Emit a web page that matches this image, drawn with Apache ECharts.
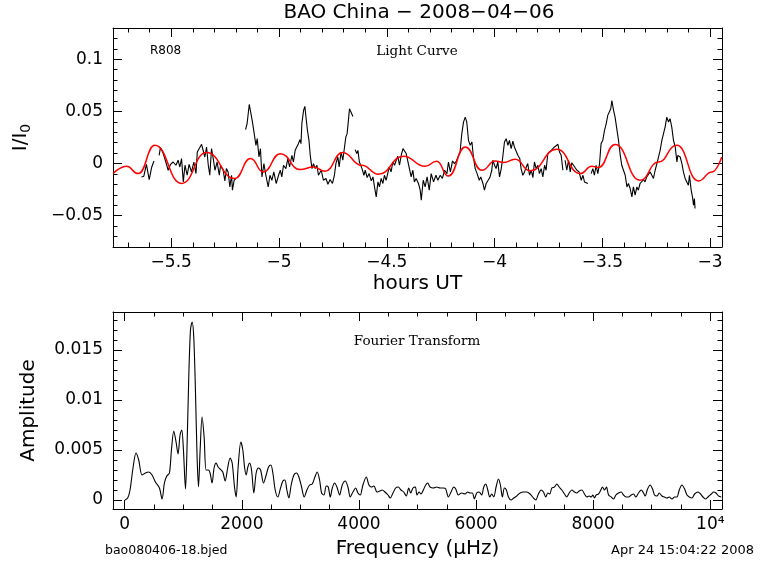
<!DOCTYPE html>
<html>
<head>
<meta charset="utf-8">
<script src="https://cdn.jsdelivr.net/npm/echarts@6/dist/echarts.min.js"></script>
<style>
html,body{margin:0;padding:0;background:#fff;}
#chart{width:768px;height:574px;}
</style>
</head>
<body>
<div id="chart"></div>
<script>
// ---- Light curve (black): hours UT, relative intensity; null = gap ----
const lcHours = [
-5.638,-5.627,-5.615,-5.602,-5.591,-5.580,-5.568,
-5.556,-5.550,-5.537,-5.525,-5.514,-5.503,-5.491,-5.478,-5.468,-5.460,-5.452,-5.444,-5.436,-5.426,-5.417,-5.406,-5.395,-5.385,-5.379,-5.370,-5.359,-5.352,-5.344,-5.336,-5.328,-5.321,-5.313,-5.305,-5.297,-5.287,-5.277,-5.271,-5.259,-5.251,-5.244,-5.236,-5.228,-5.220,-5.216,-5.208,-5.200,-5.180,
-5.155,-5.148,-5.138,-5.130,-5.123,-5.116,-5.107,-5.101,-5.093,-5.086,-5.079,-5.070,-5.061,-5.050,-5.042,-5.033,-5.024,-5.013,-5.002,-4.994,-4.987,-4.979,-4.968,-4.959,-4.951,-4.940,-4.933,-4.925,-4.917,-4.910,-4.903,-4.898,-4.894,-4.886,-4.880,-4.874,-4.868,-4.861,-4.855,-4.847,-4.840,-4.832,-4.824,-4.817,-4.804,-4.794,-4.782,-4.773,-4.763,-4.752,-4.743,-4.736,-4.727,-4.721,-4.712,-4.704,-4.696,-4.690,-4.684,-4.678,-4.673,-4.665,-4.657,-4.652,
-4.647,-4.639,-4.634,-4.627,-4.615,-4.606,-4.600,-4.591,-4.582,-4.572,-4.564,-4.557,-4.549,-4.541,-4.534,-4.526,-4.518,-4.511,-4.503,-4.495,-4.488,-4.480,-4.472,-4.464,-4.456,-4.449,-4.441,-4.433,-4.425,-4.418,-4.410,-4.402,-4.395,-4.387,-4.379,-4.372,-4.364,-4.353,-4.345,-4.340,-4.331,-4.322,-4.313,-4.303,-4.294,-4.283,-4.272,-4.263,-4.252,-4.242,-4.232,-4.221,-4.214,-4.205,-4.195,-4.186,-4.177,-4.167,-4.160,-4.152,-4.144,-4.136,-4.129,-4.121,-4.113,-4.105,-4.098,-4.090,-4.081,-4.071,-4.064,-4.054,-4.047,-4.039,-4.031,-4.022,-4.013,-4.008,-4.000,-3.993,-3.985,-3.977,-3.969,-3.962,-3.954,-3.946,-3.938,-3.931,-3.923,-3.915,-3.908,-3.900,-3.892,-3.883,-3.877,-3.869,-3.861,-3.853,-3.846,-3.838,-3.830,-3.822,-3.815,-3.807,-3.799,-3.792,-3.784,-3.776,-3.768,-3.761,-3.753,-3.745,-3.737,-3.730,-3.722,-3.714,-3.706,-3.699,-3.691,-3.683,-3.678,
-3.673,-3.665,-3.657,-3.649,-3.642,-3.634,-3.626,-3.618,-3.608,-3.598,-3.590,-3.583,-3.575,-3.567,-3.560,
-3.552,-3.544,-3.537,-3.529,-3.521,-3.513,-3.506,-3.498,-3.490,-3.482,-3.475,-3.467,-3.461,-3.456,-3.448,-3.441,-3.433,-3.425,-3.417,-3.410,-3.402,-3.394,-3.386,-3.379,-3.371,-3.363,-3.356,-3.348,-3.340,-3.333,-3.325,-3.317,-3.309,-3.302,-3.294,-3.286,-3.278,-3.270,-3.263,-3.255,-3.247,-3.240,-3.232,-3.224,-3.217,-3.209,-3.201,-3.193,-3.186,-3.178,-3.170,-3.162,-3.154,-3.150,-3.139,-3.131,-3.124,-3.116,-3.108,-3.101,-3.096,-3.088,-3.082,-3.077,-3.073,-3.070
];
const lcFlux = [
-0.0128,-0.0121,-0.0007,-0.0153,-0.0038,0.0025,null,
0.0079,0.0153,0.0096,0.0015,-0.0064,-0.0007,0.0015,-0.0016,0.0032,-0.0033,0.0048,-0.0176,-0.0016,-0.0112,-0.0007,-0.0080,0.0015,-0.0096,0.0111,0.0096,0.0185,0.0191,0.0063,0.0159,-0.0016,-0.0112,0.0143,0.0048,-0.0064,0.0015,-0.0112,-0.0016,-0.0064,-0.0166,-0.0048,-0.0080,-0.0224,-0.0112,-0.0255,-0.0160,-0.0143,null,
0.0325,0.0382,0.0567,0.0478,0.0398,0.0302,0.0175,0.0239,0.0063,0.0143,-0.0128,0.0000,-0.0112,-0.0224,-0.0112,-0.0160,-0.0080,-0.0191,-0.0112,-0.0064,-0.0128,-0.0016,-0.0048,0.0048,-0.0033,0.0079,0.0015,0.0127,0.0111,0.0191,0.0229,0.0191,0.0382,0.0510,0.0548,0.0430,0.0318,0.0223,0.0079,-0.0048,0.0000,-0.0048,-0.0016,-0.0112,-0.0064,-0.0160,-0.0143,-0.0198,-0.0153,-0.0191,-0.0112,0.0000,0.0063,-0.0033,0.0111,0.0032,0.0159,0.0254,0.0287,0.0414,0.0526,0.0535,0.0452,null,
0.0134,0.0096,0.0127,0.0015,-0.0048,-0.0112,-0.0064,-0.0134,-0.0096,-0.0166,-0.0128,-0.0224,-0.0319,-0.0176,-0.0224,-0.0143,-0.0191,-0.0112,-0.0160,-0.0090,-0.0033,-0.0080,0.0015,-0.0016,0.0032,0.0070,-0.0016,0.0079,0.0143,0.0153,0.0096,0.0111,-0.0048,-0.0128,-0.0064,-0.0176,-0.0143,-0.0191,-0.0255,-0.0351,-0.0160,-0.0224,-0.0128,-0.0255,-0.0096,-0.0176,-0.0112,-0.0160,-0.0112,-0.0143,-0.0064,-0.0096,0.0015,-0.0080,0.0025,0.0000,0.0025,0.0079,0.0111,0.0287,0.0398,0.0446,0.0398,0.0223,0.0175,0.0207,0.0063,-0.0048,-0.0096,-0.0160,-0.0128,-0.0191,-0.0255,-0.0191,-0.0207,-0.0134,-0.0064,0.0032,-0.0016,-0.0048,0.0015,-0.0128,-0.0048,0.0063,0.0207,0.0239,0.0175,0.0223,0.0143,0.0216,0.0159,0.0143,0.0079,0.0048,-0.0048,-0.0112,-0.0080,-0.0033,0.0000,-0.0112,-0.0064,-0.0134,0.0015,-0.0048,-0.0016,-0.0096,-0.0048,-0.0128,-0.0016,-0.0064,0.0096,0.0111,0.0127,0.0143,0.0159,0.0175,0.0185,0.0111,0.0079,-0.0064,null,
0.0032,-0.0064,0.0032,-0.0080,0.0006,-0.0016,-0.0007,-0.0064,-0.0080,-0.0160,-0.0112,-0.0176,-0.0160,-0.0191,null,
-0.0096,-0.0048,-0.0112,-0.0016,-0.0096,0.0000,0.0191,0.0223,0.0318,0.0382,0.0462,0.0446,0.0526,0.0605,0.0510,0.0446,0.0430,0.0223,0.0079,-0.0016,-0.0064,-0.0112,-0.0224,-0.0191,-0.0239,-0.0319,-0.0224,-0.0303,-0.0224,-0.0255,-0.0191,-0.0207,-0.0153,-0.0176,-0.0128,-0.0143,-0.0080,-0.0096,-0.0143,-0.0064,0.0000,0.0015,0.0127,0.0223,0.0239,0.0350,0.0446,0.0398,0.0430,0.0350,0.0223,0.0159,0.0015,0.0079,0.0063,0.0000,-0.0080,-0.0143,-0.0128,-0.0207,-0.0112,-0.0255,-0.0319,-0.0399,-0.0335,-0.0430
];

// ---- Smooth fit (red) ----
const fitHours = [-5.769,-5.707,-5.653,-5.576,-5.452,-5.336,-5.205,-5.132,-5.073,-4.994,-4.902,-4.840,-4.786,-4.705,-4.616,-4.538,-4.423,-4.322,-4.268,-4.214,-4.136,-4.059,-3.997,-3.958,-3.904,-3.835,-3.711,-3.603,-3.549,-3.518,-3.441,-3.325,-3.240,-3.155,-3.054,-2.992,-2.946];
const fitFlux  = [-0.0096,-0.0026,-0.0096,0.0175,-0.0190,0.0105,-0.0143,0.0048,-0.0080,0.0095,-0.0058,-0.0032,-0.0074,0.0105,-0.0016,-0.0102,0.0070,-0.0026,0.0022,-0.0120,0.0159,-0.0064,0.0025,0.0010,0.0041,-0.0070,0.0137,-0.0096,-0.0026,-0.0038,0.0182,-0.0160,0.0015,0.0175,-0.0166,-0.0080,0.0063];

// ---- Fourier transform: frequency (µHz), amplitude ----
const ftFreq = [5,51,91,137,193,239,296,353,410,467,524,593,638,678,718,764,798,838,877,911,945,974,1003,1038,1060,1094,1123,1150,1179,1209,1236,1260,1288,1321,1356,1390,1430,1458,1492,1526,1561,1595,1629,1675,1715,1761,1800,1835,1875,1903,1937,1983,2017,2046,2074,2103,2132,2166,2205,2245,2285,2320,2371,2416,2456,2496,2530,2570,2615,2661,2701,2735,2769,2803,2843,2889,2935,2974,3020,3065,3111,3157,3202,3248,3287,3328,3362,3402,3442,3476,3510,3545,3584,3624,3670,3715,3766,3812,3851,3897,3944,3983,4022,4068,4125,4171,4211,4256,4308,4353,4399,4444,4496,4535,4581,4627,4672,4718,4764,4809,4850,4884,4923,4963,4991,5026,5060,5100,5140,5174,5214,5271,5328,5385,5442,5482,5527,5573,5619,5653,5698,5755,5812,5858,5897,5937,5971,6011,6051,6097,6131,6166,6200,6234,6268,6302,6342,6382,6416,6450,6484,6518,6553,6598,6644,6695,6752,6809,6866,6923,6980,7020,7065,7111,7151,7191,7225,7259,7294,7339,7379,7419,7465,7510,7550,7590,7636,7681,7721,7761,7807,7852,7892,7932,7966,7995,8023,8051,8091,8131,8159,8194,8228,8262,8308,8347,8388,8433,8479,8518,8559,8604,8650,8689,8729,8774,8821,8860,8889,8929,8974,9014,9048,9089,9128,9174,9219,9260,9299,9346,9390,9431,9470,9516,9561,9602,9641,9687,9732,9790,9835,9875,9915,9961,10017,10057,10097,10142,10188];
const ftAmp = [0,0.0002,0.0010,0.0030,0.0047,0.0040,0.0025,0.0027,0.0028,0.0025,0.0018,0.0012,0.0001,0.0017,0.0024,0.0027,0.0050,0.0069,0.0058,0.0046,0.0065,0.0070,0.0050,0.0011,0.0043,0.0123,0.0170,0.0178,0.0163,0.0107,0.0043,0.0013,0.0050,0.0083,0.0063,0.0030,0.0030,0.0027,0.0017,0.0032,0.0037,0.0033,0.0031,0.0028,0.0019,0.0033,0.0042,0.0037,0.0013,0.0003,0.0033,0.0058,0.0050,0.0033,0.0025,0.0033,0.0037,0.0030,0.0007,0.0027,0.0032,0.0030,0.0017,0.0025,0.0033,0.0035,0.0027,0.0010,0.0003,0.0012,0.0019,0.0020,0.0010,0.0002,0.0015,0.0025,0.0027,0.0023,0.0013,0.0003,0.0010,0.0015,0.0016,0.0023,0.0028,0.0020,0.0007,0.0005,0.0014,0.0013,0.0003,0.0012,0.0017,0.0013,0.0005,0.0015,0.0019,0.0013,0.0003,0.0008,0.0012,0.0007,0.0005,0.0015,0.0023,0.0015,0.0013,0.0014,0.0008,0.0009,0.0010,0.0008,0.0005,0.0002,0.0007,0.0012,0.0013,0.0010,0.0008,0.0004,0.0012,0.0007,0.0012,0.0013,0.0005,0.0008,0.0006,0.0010,0.0015,0.0017,0.0013,0.0012,0.0013,0.0012,0.0012,0.0011,0.0003,0.0008,0.0013,0.0011,0.0005,0.0007,0.0006,0.0008,0.0007,0.0007,0.0001,0.0007,0.0008,0.0005,0.0013,0.0016,0.0010,0.0003,0.0006,0.0003,0.0013,0.0021,0.0015,0.0003,0.0012,0.0010,0.0003,0,0.0002,0.0004,0.0007,0.0008,0.0008,0.0006,0.0002,0,0.0006,0.0010,0.0008,0.0003,0.0007,0.0006,0.0012,0.0013,0.0016,0.0013,0.0010,0.0006,0.0003,0.0007,0.0010,0.0008,0.0007,0.0009,0.0010,0.0006,0.0003,0.0004,0.0003,0.0005,0.0002,0.0005,0.0006,0.0010,0.0013,0.0010,0.0013,0.0005,0.0003,0.0001,0.0005,0.0007,0.0008,0.0005,0.0003,0.0003,0.0005,0.0006,0.0003,0.0007,0.0010,0.0007,0.0004,0.0011,0.0015,0.0011,0.0005,0.0004,0.0007,0.0004,0.0003,0.0002,0.0003,0.0001,0.0003,0.0003,0.0010,0.0015,0.0011,0.0005,0.0003,0.0002,0.0006,0.0008,0.0006,0.0003,0.0001,0.0003,0.0006,0.0008,0.0007,0.0004,0.0003];

// ---- Axis ranges / tick steps ----
const lcXRange = [-5.77, -2.945];
const lcYRange = [-0.08, 0.13];
const ftXRange = [-200, 10200];
const ftYRange = [-0.0009, 0.0188];
const lcXStep = 0.5, lcYStep = 0.05, ftXStep = 2000, ftYStep = 0.005;

const zip = (a, b) => a.map((v, i) => [v, b[i]]);

const chart = echarts.init(document.getElementById('chart'), null, {renderer: 'canvas'});
const SANS = "'DejaVu Sans', sans-serif";
const minus = v => String(v).replace('-', '\u2212');

// Tick step forced through minInterval/maxInterval so ticks stay aligned to multiples
function frameAxis(range, step, minorSplit, extra) {
  return Object.assign({
    type: 'value',
    min: range[0], max: range[1],
    minInterval: step, maxInterval: step, splitNumber: 5,
    axisLine: {show: true, onZero: false, lineStyle: {color: '#000', width: 1}},
    axisTick: {show: true, inside: true, length: 9, lineStyle: {color: '#000', width: 1}},
    minorTick: {show: true, splitNumber: minorSplit, length: 4.5, lineStyle: {color: '#000', width: 1}},
    splitLine: {show: false},
    minorSplitLine: {show: false},
    axisLabel: {show: false},
    axisPointer: {show: false}
  }, extra);
}
const labelStyle = {color: '#000', fontFamily: SANS, fontSize: 17};
const nameStyle = {color: '#000', fontFamily: SANS, fontSize: 20};

const option = {
  animation: false,
  backgroundColor: '#fff',
  grid: [
    {left: 113, right: 46, top: 28, height: 219},
    {left: 113, right: 46, top: 312, height: 197}
  ],
  xAxis: [
    frameAxis(lcXRange, lcXStep, 5, {gridIndex: 0, position: 'bottom',
      axisLabel: Object.assign({show: true, margin: 7, showMinLabel: false, showMaxLabel: false, formatter: minus}, labelStyle),
      name: 'hours UT', nameLocation: 'middle', nameGap: 27, nameMoveOverlap: false, nameTextStyle: nameStyle}),
    frameAxis(lcXRange, lcXStep, 5, {gridIndex: 0, position: 'top'}),
    frameAxis(ftXRange, ftXStep, 4, {gridIndex: 1, position: 'bottom',
      axisLabel: Object.assign({show: true, margin: 7, showMinLabel: false, showMaxLabel: false,
        formatter: v => v === 10000 ? '10\u2074' : String(v)}, labelStyle),
      name: 'Frequency (\u03bcHz)', nameLocation: 'middle', nameGap: 30, nameMoveOverlap: false, nameTextStyle: nameStyle}),
    frameAxis(ftXRange, ftXStep, 4, {gridIndex: 1, position: 'top'})
  ],
  yAxis: [
    frameAxis(lcYRange, lcYStep, 5, {gridIndex: 0, position: 'left',
      axisLabel: Object.assign({show: true, margin: 10, showMinLabel: false, showMaxLabel: false, formatter: minus}, labelStyle),
      name: '{a|I/I}{b|0}', nameLocation: 'middle', nameGap: 80, nameRotate: 90, nameMoveOverlap: false,
      nameTextStyle: Object.assign({}, nameStyle, {
        rich: {a: {fontFamily: SANS, fontSize: 20, color: '#000'},
               b: {fontFamily: SANS, fontSize: 14, color: '#000', padding: [10, 0, 0, 0]}}})}),
    frameAxis(lcYRange, lcYStep, 5, {gridIndex: 0, position: 'right'}),
    frameAxis(ftYRange, ftYStep, 5, {gridIndex: 1, position: 'left',
      axisLabel: Object.assign({show: true, margin: 10, showMinLabel: false, showMaxLabel: false}, labelStyle),
      name: 'Amplitude', nameLocation: 'middle', nameGap: 74, nameRotate: 90, nameMoveOverlap: false, nameTextStyle: nameStyle}),
    frameAxis(ftYRange, ftYStep, 5, {gridIndex: 1, position: 'right'})
  ],
  series: [
    {type: 'line', xAxisIndex: 0, yAxisIndex: 0, data: zip(lcHours, lcFlux), showSymbol: false, connectNulls: false,
      lineStyle: {color: '#000', width: 1.1}, silent: true, z: 3},
    {type: 'line', xAxisIndex: 0, yAxisIndex: 0, data: zip(fitHours, fitFlux), showSymbol: false,
      smooth: 0.5, smoothMonotone: 'x', lineStyle: {color: '#ff0000', width: 1.5}, silent: true, z: 4},
    {type: 'line', xAxisIndex: 2, yAxisIndex: 2, data: zip(ftFreq, ftAmp), showSymbol: false,
      smooth: 0.3, lineStyle: {color: '#000', width: 1.1}, silent: true, z: 3}
  ],
  graphic: [
    {type: 'text', x: 419, y: 13, style: {text: 'BAO China \u2212 2008\u221204\u221206', fill: '#000', fontFamily: SANS, fontSize: 20, align: 'center', verticalAlign: 'middle'}},
    {type: 'text', x: 150, y: 51, style: {text: 'R808', fill: '#000', fontFamily: SANS, fontSize: 12, verticalAlign: 'middle'}},
    {type: 'text', x: 417, y: 51, style: {text: 'Light Curve', fill: '#000', fontFamily: "'DejaVu Serif', serif", fontSize: 13.5, align: 'center', verticalAlign: 'middle'}},
    {type: 'text', x: 417, y: 341, style: {text: 'Fourier Transform', fill: '#000', fontFamily: "'DejaVu Serif', serif", fontSize: 13.5, align: 'center', verticalAlign: 'middle'}},
    {type: 'text', x: 105, y: 551, style: {text: 'bao080406-18.bjed', fill: '#000', fontFamily: SANS, fontSize: 12.5, verticalAlign: 'middle'}},
    {type: 'text', x: 754, y: 551, style: {text: 'Apr 24 15:04:22 2008', fill: '#000', fontFamily: SANS, fontSize: 13, align: 'right', verticalAlign: 'middle'}}
  ]
};
chart.setOption(option);
</script>
</body>
</html>
